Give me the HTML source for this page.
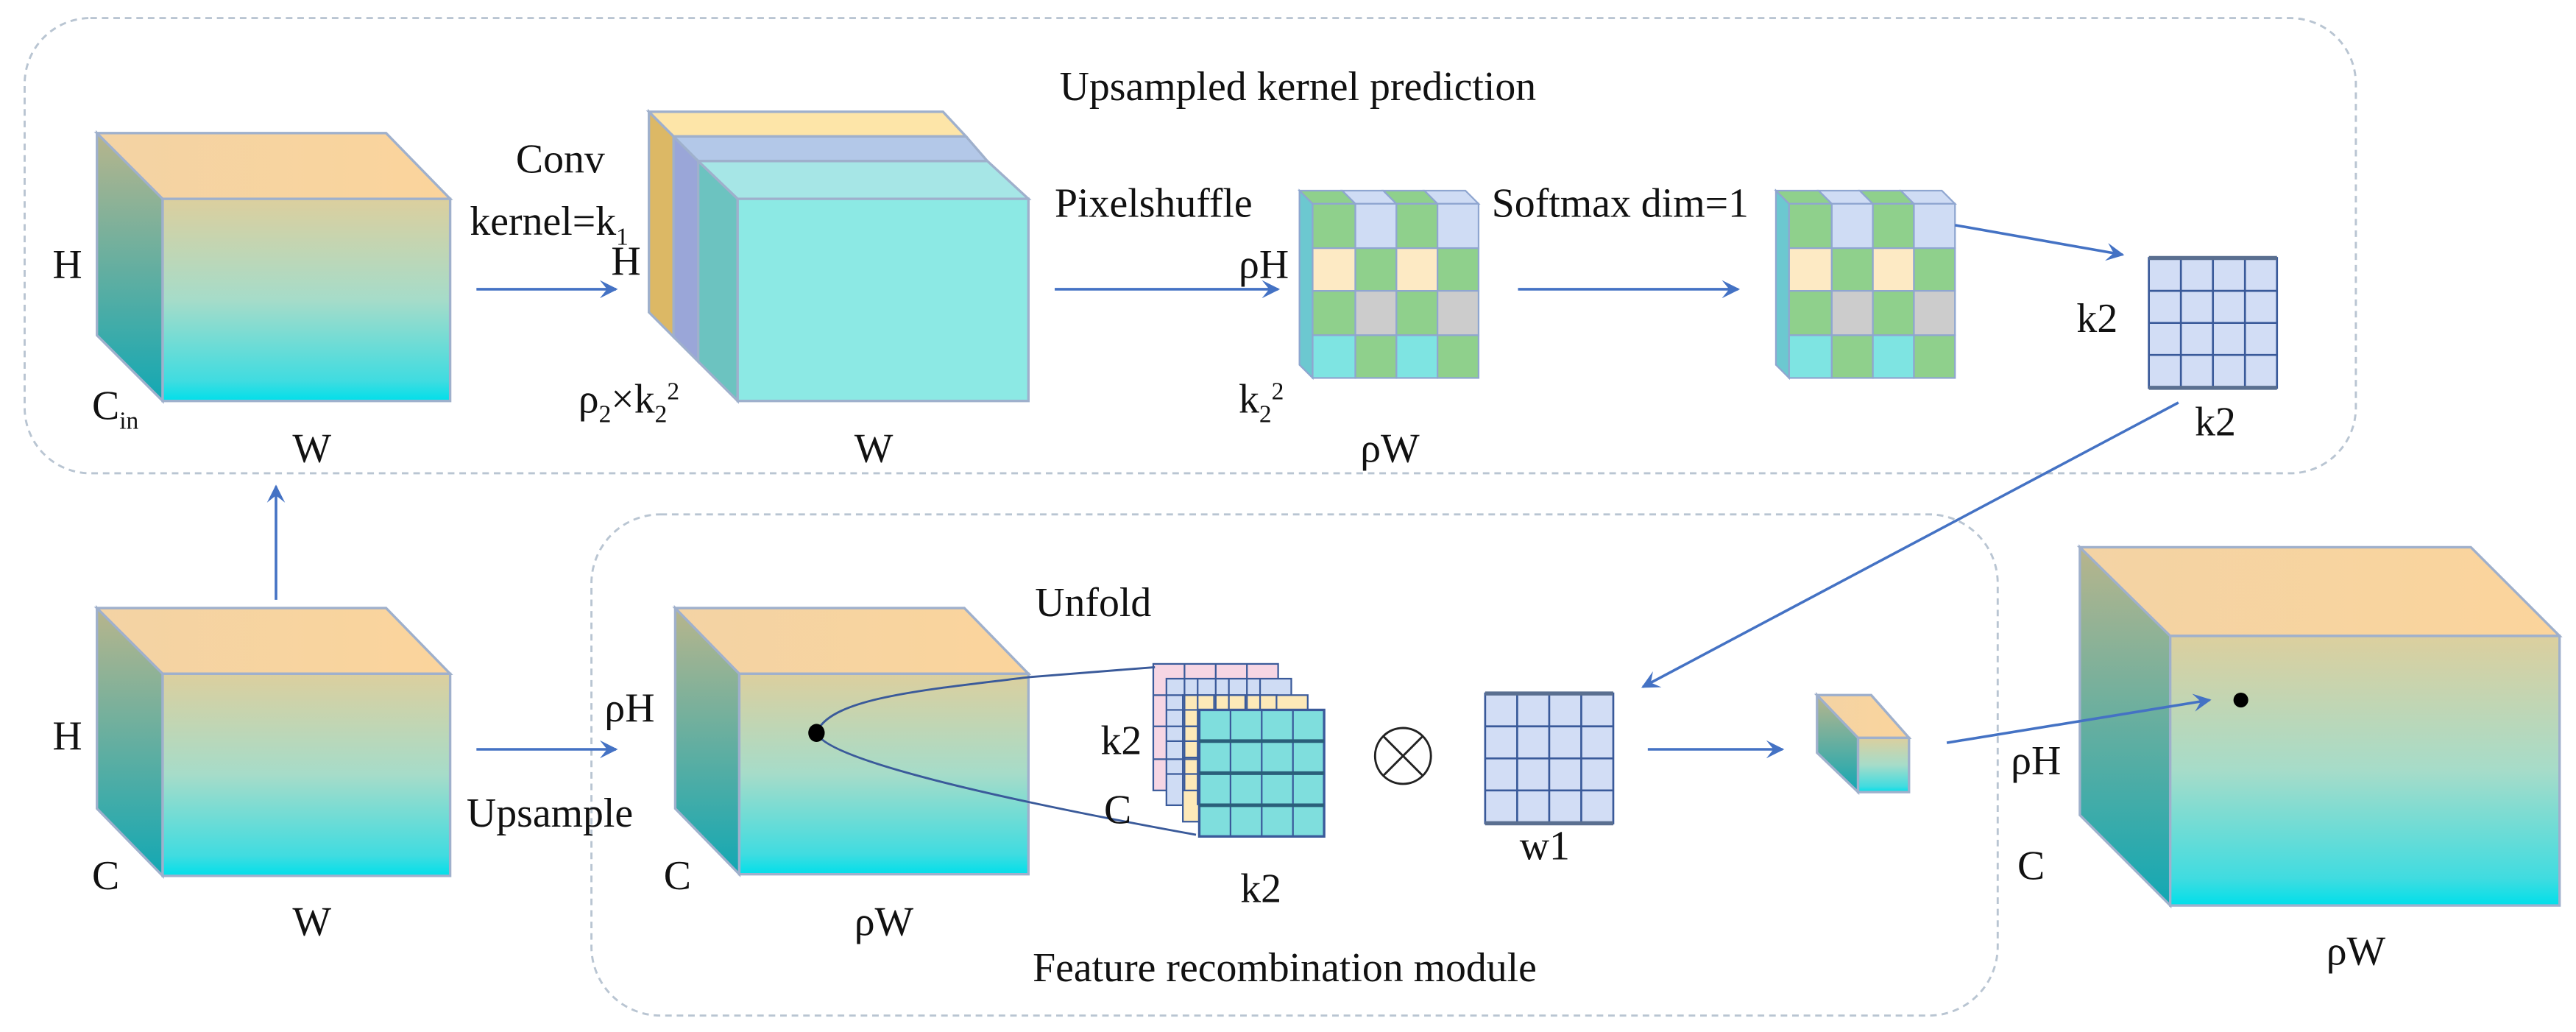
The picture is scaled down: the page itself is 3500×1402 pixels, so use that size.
<!DOCTYPE html>
<html><head><meta charset="utf-8"><style>html,body{margin:0;padding:0;background:#fff}svg{display:block}</style></head>
<body>
<svg width="3500" height="1402" viewBox="0 0 1568 628" preserveAspectRatio="none" xmlns="http://www.w3.org/2000/svg" font-family="'Liberation Serif', serif" font-size="25" fill="#111">
<defs>
<linearGradient id="gf" x1="0" y1="0" x2="0" y2="1"><stop offset="0" stop-color="#dccf9e"/><stop offset="0.5" stop-color="#a6dcc9"/><stop offset="0.9" stop-color="#40dce0"/><stop offset="1" stop-color="#00dfea"/></linearGradient>
<linearGradient id="gs" x1="0" y1="0" x2="0" y2="1"><stop offset="0" stop-color="#b8b58c"/><stop offset="1" stop-color="#12a8b4"/></linearGradient>
<linearGradient id="gt" x1="0" y1="0" x2="1" y2="0"><stop offset="0" stop-color="#f3d3a4"/><stop offset="1" stop-color="#fbd49c"/></linearGradient>
<marker id="ar" viewBox="0 0 10 10" refX="9" refY="5" markerWidth="11" markerHeight="11" orient="auto" markerUnits="userSpaceOnUse"><path d="M0,0 L10,5 L0,10 L4,5 z" fill="#4472c4"/></marker>
</defs>
<g fill="none" stroke="#b9c5d2" stroke-width="1.3" stroke-dasharray="4,3">
<rect x="15" y="11" width="1419" height="277" rx="40"/>
<rect x="360" y="313" width="856" height="305" rx="42"/>
</g>
<g stroke="#9fb0cc" stroke-width="1.5">
<polygon points="59,81 99,121 99,244 59,204" fill="url(#gs)"/><polygon points="59,81 235,81 274,121 99,121" fill="url(#gt)"/><rect x="99" y="121" width="175" height="123" fill="url(#gf)"/>
<polygon points="59,370 99,410 99,533 59,492" fill="url(#gs)"/><polygon points="59,370 235,370 274,410 99,410" fill="url(#gt)"/><rect x="99" y="410" width="175" height="123" fill="url(#gf)"/>
<polygon points="411,370 450,410 450,532 411,492" fill="url(#gs)"/><polygon points="411,370 587,370 626,410 450,410" fill="url(#gt)"/><rect x="450" y="410" width="176" height="122" fill="url(#gf)"/>
<polygon points="1266,333 1321,387 1321,551 1266,496" fill="url(#gs)"/><polygon points="1266,333 1504,333 1558,387 1321,387" fill="url(#gt)"/><rect x="1321" y="387" width="237" height="164" fill="url(#gf)"/>
<polygon points="1106,423 1131,449 1131,482 1106,458" fill="url(#gs)"/><polygon points="1106,423 1139,423 1162,449 1131,449" fill="url(#gt)"/><rect x="1131" y="449" width="31" height="33" fill="url(#gf)"/>
<polygon points="395,68 410,83 410,205 395,190" fill="#dcb865"/><polygon points="395,68 574,68 588,83 410,83" fill="#fde5a8"/>
<polygon points="410,83 425,98 425,220 410,205" fill="#9aa6d8"/><polygon points="410,83 588,83 601,98 425,98" fill="#b3c8e8"/>
<polygon points="425,98 449,121 449,244 425,220" fill="#6cc3c0"/><polygon points="425,98 601,98 626,121 449,121" fill="#a6e6e6"/>
<rect x="449" y="121" width="177" height="123" fill="#8ce9e4"/>
</g>
<g stroke="#8fa6d0" stroke-width="1">
<g id="pg">
<polygon points="791,116 799,124 799,230 791,222" fill="#6cc8d0"/>
<polygon points="791,116 817,116 825,124 799,124" fill="#8fd08c"/><polygon points="817,116 842,116 850,124 825,124" fill="#cfdcf4"/><polygon points="842,116 867,116 875,124 850,124" fill="#8fd08c"/><polygon points="867,116 892,116 900,124 875,124" fill="#cfdcf4"/>
<rect x="799" y="124" width="26" height="27" fill="#8fd08c"/><rect x="825" y="124" width="25" height="27" fill="#cfdcf4"/><rect x="850" y="124" width="25" height="27" fill="#8fd08c"/><rect x="875" y="124" width="25" height="27" fill="#cfdcf4"/>
<rect x="799" y="151" width="26" height="26" fill="#fdeac4"/><rect x="825" y="151" width="25" height="26" fill="#8fd08c"/><rect x="850" y="151" width="25" height="26" fill="#fdeac4"/><rect x="875" y="151" width="25" height="26" fill="#8fd08c"/>
<rect x="799" y="177" width="26" height="27" fill="#8fd08c"/><rect x="825" y="177" width="25" height="27" fill="#cccccc"/><rect x="850" y="177" width="25" height="27" fill="#8fd08c"/><rect x="875" y="177" width="25" height="27" fill="#cccccc"/>
<rect x="799" y="204" width="26" height="26" fill="#7ee4e2"/><rect x="825" y="204" width="25" height="26" fill="#8fd08c"/><rect x="850" y="204" width="25" height="26" fill="#7ee4e2"/><rect x="875" y="204" width="25" height="26" fill="#8fd08c"/>
</g>
<use href="#pg" transform="translate(290,0)"/>
</g>
<g stroke="#3a5a9a" stroke-width="1.2" fill="#d2ddf5">
<g id="kg"><rect x="1308" y="157" width="78" height="79"/><path d="M1327.5,157V236M1347,157V236M1366.5,157V236M1308,177H1386M1308,196.5H1386M1308,216H1386" fill="none"/><path d="M1308,157H1386M1308,236H1386" stroke-width="2.5" fill="none" stroke="#5a6f90"/></g>
<use href="#kg" transform="translate(-404,265)"/>
</g>
<g stroke="#3a5a9a" stroke-width="1">
<rect x="702" y="404" width="76" height="77" fill="#f6d6e4"/>
<rect x="710" y="413" width="76" height="77" fill="#cfdcf4"/>
<rect x="720" y="423" width="76" height="77" fill="#fde9b8"/>
<path d="M721,404V481M740,404V481M759,404V481M702,423H778M702,442H778M702,462H778" fill="none"/>
<path d="M729,413V490M748,413V490M767,413V490M710,432H786M710,451H786M710,471H786" fill="none"/>
<path d="M739,423V500M758,423V500M777,423V500M720,442H796M720,461H796M720,481H796" fill="none"/>
<rect x="730" y="432" width="76" height="77" fill="#7fdedd" stroke-width="1.5"/>
<path d="M749,432V509M768,432V509M787,432V509" fill="none"/>
<path d="M730,451H806M730,470.5H806M730,490H806" fill="none" stroke-width="2.2" stroke="#2a5f7a"/>
</g>
<path d="M703,406 L627,412 C560,420 505,425 497,446 C505,465 640,492 728,508" fill="none" stroke="#3a5a9a" stroke-width="1.3"/>
<ellipse cx="497" cy="446" rx="5" ry="5.5" fill="#000"/>
<circle cx="1364" cy="426" r="4.5" fill="#000"/>
<ellipse cx="854" cy="460" rx="17" ry="17" fill="none" stroke="#222" stroke-width="1.3"/>
<path d="M842,448L866,472M866,448L842,472" stroke="#222" stroke-width="1.3"/>
<g stroke="#4472c4" stroke-width="1.6" fill="none" marker-end="url(#ar)">
<line x1="290" y1="176" x2="375" y2="176"/>
<line x1="642" y1="176" x2="778" y2="176"/>
<line x1="924" y1="176" x2="1058" y2="176"/>
<line x1="1190" y1="137" x2="1292" y2="155"/>
<line x1="168" y1="365" x2="168" y2="296"/>
<line x1="290" y1="456" x2="375" y2="456"/>
<line x1="1326" y1="245" x2="1000" y2="418"/>
<line x1="1003" y1="456" x2="1085" y2="456"/>
<line x1="1185" y1="452" x2="1345" y2="426"/>
</g>
<g>
<text x="790" y="61" text-anchor="middle">Upsampled kernel prediction</text>
<text x="782" y="597" text-anchor="middle">Feature recombination module</text>
<text x="32" y="169">H</text>
<text x="56" y="255">C<tspan font-size="15" dy="6">in</tspan></text>
<text x="178" y="281">W</text>
<text x="314" y="105">Conv</text>
<text x="286" y="143">kernel=k<tspan font-size="15" dy="6">1</tspan></text>
<text x="372" y="167">H</text>
<text x="352" y="251">ρ<tspan font-size="15" dy="6">2</tspan><tspan dy="-6">×k</tspan><tspan font-size="15" dy="6">2</tspan><tspan font-size="15" dy="-14">2</tspan></text>
<text x="520" y="281">W</text>
<text x="642" y="132">Pixelshuffle</text>
<text x="754" y="169">ρH</text>
<text x="754" y="251">k<tspan font-size="15" dy="6">2</tspan><tspan font-size="15" dy="-14">2</tspan></text>
<text x="828" y="281">ρW</text>
<text x="908" y="132">Softmax dim=1</text>
<text x="1264" y="202">k2</text>
<text x="1336" y="265">k2</text>
<text x="32" y="456">H</text>
<text x="56" y="541">C</text>
<text x="178" y="569">W</text>
<text x="284" y="503">Upsample</text>
<text x="368" y="439">ρH</text>
<text x="404" y="541">C</text>
<text x="520" y="569">ρW</text>
<text x="630" y="375">Unfold</text>
<text x="670" y="459">k2</text>
<text x="672" y="501">C</text>
<text x="755" y="549">k2</text>
<text x="925" y="523">w1</text>
<text x="1224" y="471">ρH</text>
<text x="1228" y="535">C</text>
<text x="1416" y="587">ρW</text>
</g>
</svg>
</body></html>
